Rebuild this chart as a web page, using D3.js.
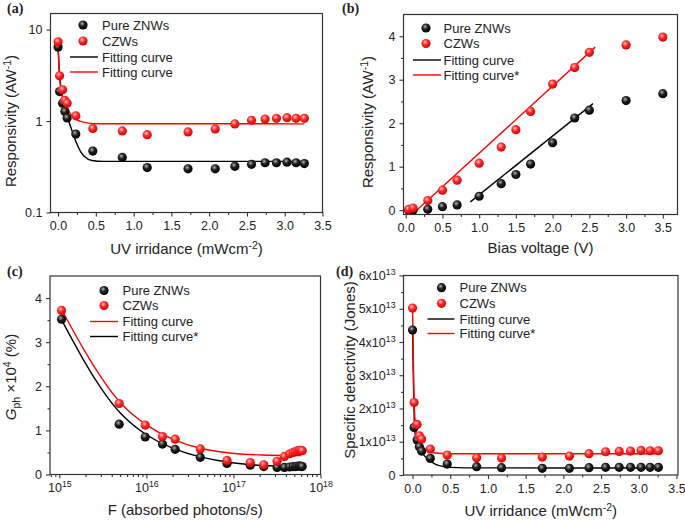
<!DOCTYPE html>
<html><head><meta charset="utf-8">
<script src="https://cdn.jsdelivr.net/npm/d3@7"></script>
<style>
body{margin:0;background:#fff;}
text{font-family:"Liberation Sans",Arial,sans-serif;fill:#222;}
</style></head><body>
<svg id="c" width="685" height="522"></svg>
<script>
// ---------- DATA ----------
// Panel (a) & (d): UV irradiance (mW/cm^2)
const irr = [0, 0.02, 0.06, 0.09, 0.12, 0.235, 0.46, 0.85, 1.18, 1.72, 2.08, 2.34, 2.56, 2.74, 2.89, 3.03, 3.15, 3.26];
const respPure = [6.44, 2.1, 1.57, 1.27, 1.08, 0.72, 0.47, 0.40, 0.31, 0.30, 0.30, 0.32, 0.336, 0.35, 0.35, 0.355, 0.35, 0.343];
const respCZW  = [7.36, 3.13, 2.2, 1.68, 1.57, 1.14, 0.83, 0.78, 0.71, 0.76, 0.82, 0.93, 1.02, 1.05, 1.07, 1.09, 1.07, 1.07];
const fitA_black = [[0,6.3],[0.02,3.2],[0.05,2.0],[0.1,1.3],[0.15,0.95],[0.2,0.72],[0.25,0.56],[0.3,0.46],[0.35,0.41],[0.45,0.37],[0.6,0.362],[3.26,0.362]];
const fitA_red = [[0,7.2],[0.02,3.0],[0.05,2.0],[0.1,1.5],[0.15,1.25],[0.2,1.1],[0.3,0.99],[0.4,0.95],[0.55,0.935],[3.26,0.932]];

// Panel (b): bias voltage (V)
const bias = [0.04, 0.1, 0.3, 0.5, 0.7, 1.0, 1.3, 1.5, 1.7, 2.0, 2.3, 2.5, 3.0, 3.5];
const biasPure = [0.0, 0.0, 0.02, 0.08, 0.12, 0.32, 0.61, 0.82, 1.06, 1.55, 2.12, 2.3, 2.52, 2.68];
const biasCZW  = [0.02, 0.05, 0.22, 0.46, 0.69, 1.08, 1.45, 1.85, 2.27, 2.9, 3.28, 3.63, 3.8, 3.98];
const fitB_black = [[0.88,0.19],[2.55,2.45]];
const fitB_red = [[0.12,-0.05],[2.58,3.75]];

// Panel (c): absorbed photons/s
const photons = [1.06e15, 4.87e15, 9.7e15, 1.53e16, 2.14e16, 4.16e16, 8.43e16, 1.56e17, 2.23e17, 3.17e17, 3.85e17, 4.42e17, 4.84e17, 5.18e17, 5.46e17, 5.73e17, 5.95e17, 6.16e17];
const gainPure = [3.52, 1.14, 0.85, 0.69, 0.57, 0.39, 0.25, 0.21, 0.18, 0.16, 0.16, 0.17, 0.18, 0.18, 0.19, 0.19, 0.19, 0.18];
const gainCZW  = [3.72, 1.61, 1.12, 0.86, 0.80, 0.58, 0.32, 0.27, 0.22, 0.30, 0.41, 0.47, 0.50, 0.52, 0.54, 0.55, 0.55, 0.54];
const fitC_red = [[1.1e15,3.68],[2e15,2.75],[3e15,2.2],[5e15,1.58],[1e16,1.1],[2e16,0.78],[4e16,0.58],[1e17,0.47],[2e17,0.44],[6e17,0.43]];
const fitC_black = [[1.1e15,3.45],[2e15,2.5],[3e15,1.95],[5e15,1.35],[1e16,0.87],[2e16,0.58],[4e16,0.39],[1e17,0.25],[2e17,0.2],[6e17,0.18]];

// Panel (d): specific detectivity (units of 1e13 Jones)
const detPure = [4.36, 1.43, 1.05, 0.85, 0.72, 0.50, 0.33, 0.25, 0.22, 0.20, 0.20, 0.22, 0.23, 0.23, 0.23, 0.23, 0.23, 0.23];
const detCZW  = [5.02, 2.18, 1.52, 1.18, 1.08, 0.78, 0.60, 0.52, 0.51, 0.54, 0.57, 0.64, 0.70, 0.71, 0.72, 0.74, 0.73, 0.73];
const fitD_black = [[0,4.4],[0.03,1.3],[0.06,1.0],[0.1,0.78],[0.15,0.6],[0.2,0.48],[0.3,0.33],[0.4,0.26],[0.5,0.23],[0.7,0.215],[3.26,0.21]];
const fitD_red = [[0,5.0],[0.02,2.2],[0.04,1.5],[0.07,1.15],[0.1,0.95],[0.15,0.8],[0.2,0.72],[0.3,0.66],[0.5,0.64],[3.26,0.64]];

const linTicks05 = [0,0.5,1,1.5,2,2.5,3,3.5];

// ---------- DRAW ----------
const svg = d3.select("#c");
const defs = svg.append("defs");
function grad(id, c0, c1, c2){
  const g = defs.append("radialGradient").attr("id", id).attr("cx","40%").attr("cy","35%").attr("r","65%");
  g.append("stop").attr("offset","0%").attr("stop-color",c0);
  g.append("stop").attr("offset","45%").attr("stop-color",c1);
  g.append("stop").attr("offset","100%").attr("stop-color",c2);
}
grad("gBlack","#b0b0b0","#202020","#000");
grad("gRed","#ffc8c8","#ff2a2a","#d80000");

const axisColor = "#333";
const tickFont = 12.5;

function frame(g, L, R, T, B){
  g.append("rect").attr("x",L).attr("y",T).attr("width",R-L).attr("height",B-T)
    .attr("fill","none").attr("stroke",axisColor).attr("stroke-width",1.2);
}
function xTicks(g, x, B, major, minor, fmt){
  const ax = d3.axisBottom(x).tickValues(major).tickSize(4).tickFormat(fmt||d3.format(".1f")).tickPadding(5);
  const ag = g.append("g").attr("transform",`translate(0,${B})`).call(ax);
  ag.select(".domain").remove();
  ag.selectAll("line").attr("stroke",axisColor).attr("stroke-width",1.1);
  ag.selectAll("text").attr("font-size",tickFont).attr("fill","#222").style("font-family","Liberation Sans, Arial, sans-serif");
  if(minor){
    const mg = g.append("g").attr("transform",`translate(0,${B})`).call(d3.axisBottom(x).tickValues(minor).tickSize(2.5).tickFormat(""));
    mg.select(".domain").remove();
    mg.selectAll("line").attr("stroke",axisColor).attr("stroke-width",1.1);
  }
  return ag;
}
function yTicks(g, y, L, major, minor, fmt){
  const ax = d3.axisLeft(y).tickValues(major).tickSize(4).tickFormat(fmt).tickPadding(4);
  const ag = g.append("g").attr("transform",`translate(${L},0)`).call(ax);
  ag.select(".domain").remove();
  ag.selectAll("line").attr("stroke",axisColor).attr("stroke-width",1.1);
  ag.selectAll("text").attr("font-size",tickFont).attr("fill","#222").style("font-family","Liberation Sans, Arial, sans-serif");
  if(minor){
    const mg = g.append("g").attr("transform",`translate(${L},0)`).call(d3.axisLeft(y).tickValues(minor).tickSize(2.5).tickFormat(""));
    mg.select(".domain").remove();
    mg.selectAll("line").attr("stroke",axisColor).attr("stroke-width",1.1);
  }
  return ag;
}
function points(g, x, y, xs, ys, fill){
  g.append("g").selectAll("circle").data(xs.map((d,i)=>[d, ys[i]])).join("circle")
    .attr("cx", d=>x(d[0])).attr("cy", d=>y(d[1])).attr("r",4.6).attr("fill",`url(#${fill})`);
}
function curve(g, x, y, pts, color, ctype){
  g.append("path").datum(pts).attr("fill","none").attr("stroke",color).attr("stroke-width",1.4)
    .attr("d", d3.line().x(d=>x(d[0])).y(d=>y(d[1])).curve(ctype||d3.curveMonotoneX));
}
function legend(g, sx, lx0, lx1, tx, ys, items){
  items.forEach((it,i)=>{
    const yy = ys[i];
    if(it.type==="pt"){
      g.append("circle").attr("cx",sx).attr("cy",yy).attr("r",4.6).attr("fill",`url(#${it.fill})`);
    } else {
      g.append("line").attr("x1",lx0).attr("x2",lx1).attr("y1",yy).attr("y2",yy).attr("stroke",it.color).attr("stroke-width",1.4);
    }
    g.append("text").attr("x",tx).attr("y",yy+4.6).attr("font-size",13).text(it.label);
  });
}
function sup(t, base, s){ t.append("tspan").text(base); t.append("tspan").attr("dy",-5).attr("font-size","0.7em").text(s); }
function panelLabel(x, y, s){
  svg.append("text").attr("x",x).attr("y",y).attr("font-size",14).attr("font-weight","bold")
    .style("font-family","Liberation Serif, Times New Roman, serif").attr("fill","#111").text(s);
}

// ===== Panel (a) =====
{
  const L=50.5,R=322.5,T=13.5,B=212.5;
  const g = svg.append("g");
  const x = d3.scaleLinear().domain([-0.1,3.5]).range([L,R]);
  const y = d3.scaleLog().domain([0.1,15]).range([B,T]);
  xTicks(g, x, B, linTicks05, [0.25,0.75,1.25,1.75,2.25,2.75,3.25]);
  yTicks(g, y, L, [0.1,1,10], null, d=>d3.format("~g")(d));
  curve(g, x, y, fitA_black, "#000");
  curve(g, x, y, fitA_red, "#ff0000");
  points(g, x, y, irr, respPure, "gBlack");
  points(g, x, y, irr, respCZW, "gRed");
  frame(g,L,R,T,B);
  legend(g, 83, 70, 98, 102, [25,41,57,72], [
    {type:"pt",fill:"gBlack",label:"Pure ZNWs"},{type:"pt",fill:"gRed",label:"CZWs"},
    {type:"ln",color:"#000",label:"Fitting curve"},{type:"ln",color:"#ff0000",label:"Fitting curve"}]);
  const xt = g.append("text").attr("x",(L+R)/2).attr("y",254).attr("text-anchor","middle").attr("font-size",15);
  sup(xt,"UV irridance (mWcm","-2"); xt.append("tspan").attr("dy",5).text(")");
  const yt = g.append("text").attr("transform",`translate(16,${121}) rotate(-90)`).attr("text-anchor","middle").attr("font-size",15);
  sup(yt,"Responsivity (AW","-1"); yt.append("tspan").attr("dy",5).text(")");
  panelLabel(7,13,"(a)");
}

// ===== Panel (b) =====
{
  const L=403.5,R=677.5,T=14.5,B=214.5;
  const g = svg.append("g");
  const x = d3.scaleLinear().domain([-0.03,3.7]).range([L,R]);
  const y = d3.scaleLinear().domain([-0.1,4.5]).range([B,T]);
  xTicks(g, x, B, linTicks05, [0.25,0.75,1.25,1.75,2.25,2.75,3.25]);
  yTicks(g, y, L, [0,1,2,3,4], [0.5,1.5,2.5,3.5], d3.format("d"));
  curve(g, x, y, fitB_black, "#000", d3.curveLinear);
  curve(g, x, y, fitB_red, "#ff0000", d3.curveLinear);
  points(g, x, y, bias, biasPure, "gBlack");
  points(g, x, y, bias, biasCZW, "gRed");
  frame(g,L,R,T,B);
  legend(g, 426, 413, 441, 443.5, [28,43.5,60,75], [
    {type:"pt",fill:"gBlack",label:"Pure ZNWs"},{type:"pt",fill:"gRed",label:"CZWs"},
    {type:"ln",color:"#000",label:"Fitting curve"},{type:"ln",color:"#ff0000",label:"Fitting curve*"}]);
  g.append("text").attr("x",(L+R)/2).attr("y",253).attr("text-anchor","middle").attr("font-size",15).text("Bias voltage (V)");
  const yt = g.append("text").attr("transform",`translate(373,${122}) rotate(-90)`).attr("text-anchor","middle").attr("font-size",15);
  sup(yt,"Responsivity (AW","-1"); yt.append("tspan").attr("dy",5).text(")");
  panelLabel(342,13,"(b)");
}

// ===== Panel (c) =====
{
  const L=50,R=320.5,T=276,B=474.5;
  const g = svg.append("g");
  const x = d3.scaleLog().domain([Math.pow(10,14.893),1e18]).range([L,R]);
  const y = d3.scaleLinear().domain([0,4.5]).range([B,T]);
  const minorX = [];
  [1e14,1e15,1e16,1e17].forEach(dec=>[2,3,4,5,6,7,8,9].forEach(m=>{const v=dec*m; if(v>Math.pow(10,14.893)&&v<1e18) minorX.push(v);}));
  const ag = xTicks(g, x, B, [1e15,1e16,1e17,1e18], minorX, ()=>"");
  ag.selectAll(".tick text").each(function(d){
    const t = d3.select(this); t.text(null);
    t.append("tspan").text("10");
    t.append("tspan").attr("dy",-5).attr("font-size","0.7em").text(String(Math.round(Math.log10(d))));
  });
  yTicks(g, y, L, [0,1,2,3,4], [0.5,1.5,2.5,3.5], d3.format("d"));
  curve(g, x, y, fitC_red, "#ff0000", d3.curveBasis);
  curve(g, x, y, fitC_black, "#000", d3.curveBasis);
  points(g, x, y, photons, gainPure, "gBlack");
  points(g, x, y, photons, gainCZW, "gRed");
  frame(g,L,R,T,B);
  legend(g, 104, 90, 118, 122.5, [290.5,305.5,321.5,336.5], [
    {type:"pt",fill:"gBlack",label:"Pure ZNWs"},{type:"pt",fill:"gRed",label:"CZWs"},
    {type:"ln",color:"#ff0000",label:"Fitting curve"},{type:"ln",color:"#000",label:"Fitting curve*"}]);
  g.append("text").attr("x",(L+R)/2).attr("y",515).attr("text-anchor","middle").attr("font-size",15).text("F (absorbed photons/s)");
  const yt = g.append("text").attr("transform",`translate(16,${377}) rotate(-90)`).attr("text-anchor","middle").attr("font-size",15);
  yt.append("tspan").attr("font-style","italic").text("G");
  yt.append("tspan").attr("dy",4).attr("font-size","0.7em").text("ph");
  yt.append("tspan").attr("dy",-4).text(" \u00d710");
  yt.append("tspan").attr("dy",-5).attr("font-size","0.7em").text("4");
  yt.append("tspan").attr("dy",5).text(" (%)");
  panelLabel(7,276,"(c)");
}

// ===== Panel (d) =====
{
  const L=403.5,R=678,T=275.5,B=475;
  const g = svg.append("g");
  const x = d3.scaleLinear().domain([-0.12,3.52]).range([L,R]);
  const y = d3.scaleLinear().domain([0,6]).range([B,T]);
  xTicks(g, x, B, linTicks05, [0.25,0.75,1.25,1.75,2.25,2.75,3.25]);
  const ag = yTicks(g, y, L, [0,1,2,3,4,5,6], [0.5,1.5,2.5,3.5,4.5,5.5], ()=>"");
  ag.selectAll(".tick text").each(function(d){
    const t = d3.select(this); t.text(null);
    if(d===0){ t.text("0"); return; }
    t.append("tspan").text(d+"x10");
    t.append("tspan").attr("dy",-5).attr("font-size","0.7em").text("13");
  });
  curve(g, x, y, fitD_black, "#000");
  curve(g, x, y, fitD_red, "#ff0000");
  points(g, x, y, irr, detPure, "gBlack");
  points(g, x, y, irr, detCZW, "gRed");
  frame(g,L,R,T,B);
  legend(g, 441.5, 427.5, 454.5, 459.5, [287.7,303.3,319,333.5], [
    {type:"pt",fill:"gBlack",label:"Pure ZNWs"},{type:"pt",fill:"gRed",label:"CZWs"},
    {type:"ln",color:"#000",label:"Fitting curve"},{type:"ln",color:"#ff0000",label:"Fitting curve*"}]);
  const xt = g.append("text").attr("x",(L+R)/2).attr("y",516).attr("text-anchor","middle").attr("font-size",15);
  sup(xt,"UV irridance (mWcm","-2"); xt.append("tspan").attr("dy",5).text(")");
  g.append("text").attr("transform",`translate(355,${370}) rotate(-90)`).attr("text-anchor","middle").attr("font-size",15).text("Specific detectivity (Jones)");
  panelLabel(336,276,"(d)");
}
</script>
</body></html>
